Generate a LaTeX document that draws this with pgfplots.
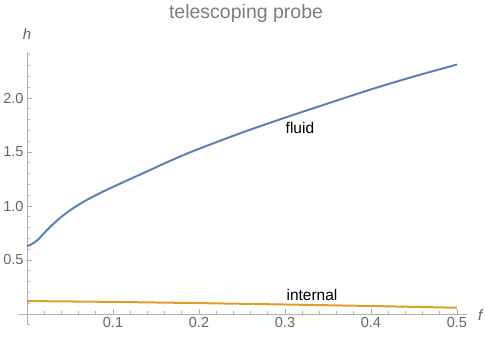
\documentclass[border=0pt]{standalone}
\usepackage{fontspec}
\setmainfont{Liberation Sans}
\usepackage{pgfplots}
\pgfplotsset{compat=1.18}
\definecolor{fluidblue}{HTML}{5E81B5}
\definecolor{intorange}{HTML}{E19C24}
\definecolor{axisgray}{HTML}{B3B3B3}
\definecolor{labgray}{HTML}{666666}

\begin{document}
\begin{tikzpicture}[x=1pt,y=1pt]
\useasboundingbox (-18.4,-14.2) rectangle (466.6,324.8);
\begin{axis}[
  at={(0,0)}, anchor=south west,
  scale only axis, width=448.9pt, height=273.2pt,
  axis lines=middle, axis line style={-,draw=axisgray,line width=0.8pt},
  xmin=-0.01, xmax=0.512, ymin=-0.1, ymax=2.43,
  xtick={0.1,0.2,0.3,0.4,0.5},
  ytick={0.5,1.0,1.5,2.0},
  minor xtick={0.02,0.04,...,0.5},
  minor ytick={-0.1,0,...,2.4},
  tick align=inside,
  major tick length=5pt, minor tick length=3pt,
  every tick/.style={draw=axisgray,line width=0.7pt},
  tick label style={font=\fontsize{14.5}{17}\selectfont,text=labgray},
  /pgf/number format/assume math mode=true,
  yticklabel style={/pgf/number format/.cd,fixed,fixed zerofill,precision=1},
  xticklabel style={/pgf/number format/.cd,fixed,precision=1},
  clip=false,
]
\addplot[fluidblue,line width=2pt,smooth,tension=0.4] coordinates {
  (0,0.630) (0.004,0.640) (0.008,0.660) (0.013,0.690) (0.02,0.750)
  (0.03,0.830) (0.04,0.900) (0.05,0.960) (0.06,1.012) (0.07,1.058)
  (0.08,1.100) (0.09,1.140) (0.10,1.177) (0.12,1.250) (0.14,1.322)
  (0.16,1.395) (0.18,1.465) (0.20,1.530) (0.25,1.680) (0.30,1.818)
  (0.35,1.950) (0.40,2.080) (0.45,2.200) (0.50,2.310)};
\addplot[intorange,line width=2pt] coordinates {
  (0,0.120) (0.1,0.112) (0.2,0.101) (0.3,0.088) (0.4,0.074) (0.5,0.058)};
\node[anchor=base,font=\fontsize{15.5}{18}\selectfont] at (axis cs:0.3174,1.667) {fluid};
\node[anchor=base,font=\fontsize{15.5}{18}\selectfont] at (axis cs:0.3314,0.123) {internal};
\node[anchor=base,font=\fontsize{19.5}{23}\selectfont,text=labgray!85] at (axis cs:0.2547,2.738) {telescoping probe};
\node[anchor=base,font=\fontsize{15}{18}\selectfont\itshape,text=labgray] at (axis cs:0,2.546) {h};
\node[anchor=base,font=\fontsize{15}{18}\selectfont\itshape,text=labgray] at (axis cs:0.527,-0.056) {f};
\end{axis}
\end{tikzpicture}
\end{document}
